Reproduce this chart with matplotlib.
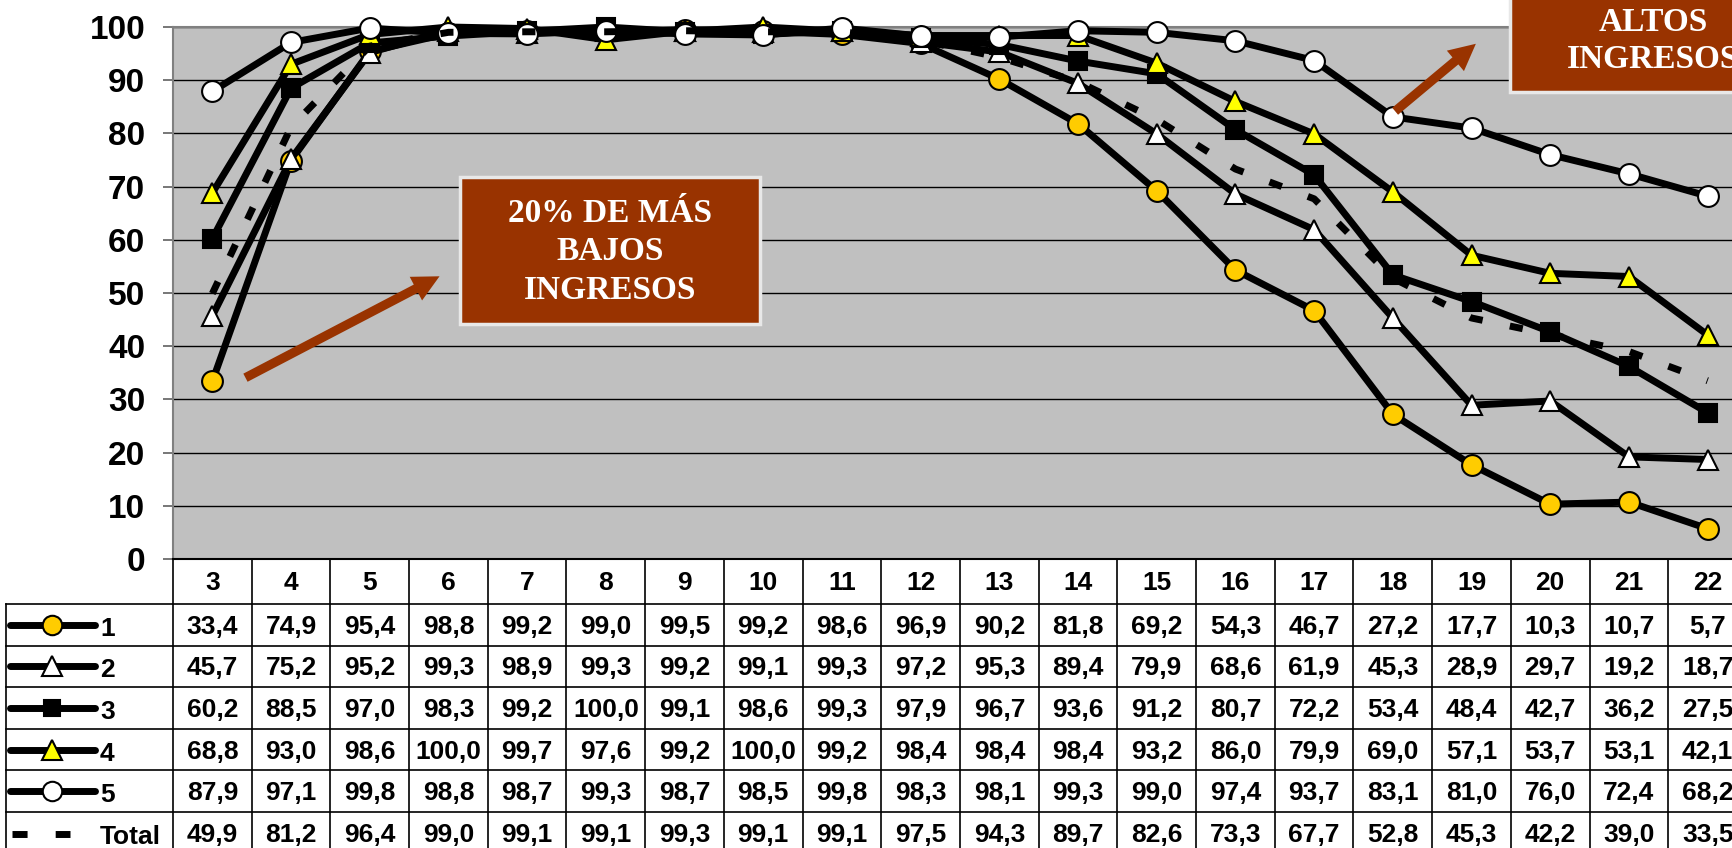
# Tasa de asistencia por edad y quintil de ingreso

import matplotlib
matplotlib.use('Agg')
import matplotlib.pyplot as plt
from matplotlib.patches import Rectangle, FancyArrowPatch

# ---- data ----
edades = [3, 4, 5, 6, 7, 8, 9, 10, 11, 12, 13, 14, 15, 16, 17, 18, 19, 20, 21, 22]

q1 = [33.4, 74.9, 95.4, 98.8, 99.2, 99.0, 99.5, 99.2, 98.6, 96.9,
      90.2, 81.8, 69.2, 54.3, 46.7, 27.2, 17.7, 10.3, 10.7, 5.7]
q2 = [45.7, 75.2, 95.2, 99.3, 98.9, 99.3, 99.2, 99.1, 99.3, 97.2,
      95.3, 89.4, 79.9, 68.6, 61.9, 45.3, 28.9, 29.7, 19.2, 18.7]
q3 = [60.2, 88.5, 97.0, 98.3, 99.2, 100.0, 99.1, 98.6, 99.3, 97.9,
      96.7, 93.6, 91.2, 80.7, 72.2, 53.4, 48.4, 42.7, 36.2, 27.5]
q4 = [68.8, 93.0, 98.6, 100.0, 99.7, 97.6, 99.2, 100.0, 99.2, 98.4,
      98.4, 98.4, 93.2, 86.0, 79.9, 69.0, 57.1, 53.7, 53.1, 42.1]
q5 = [87.9, 97.1, 99.8, 98.8, 98.7, 99.3, 98.7, 98.5, 99.8, 98.3,
      98.1, 99.3, 99.0, 97.4, 93.7, 83.1, 81.0, 76.0, 72.4, 68.2]
total = [49.9, 81.2, 96.4, 99.0, 99.1, 99.1, 99.3, 99.1, 99.1, 97.5,
         94.3, 89.7, 82.6, 73.3, 67.7, 52.8, 45.3, 42.2, 39.0, 33.5]

series_names = ['1', '2', '3', '4', '5', 'Total']
series_vals = [q1, q2, q3, q4, q5, total]

box_bajos = '20% DE MÁS\nBAJOS\nINGRESOS'
box_altos = 'ALTOS\nINGRESOS'

# ---- styles ----
styles = [
    dict(marker='o', mfc='#FFCC00', ls='-'),
    dict(marker='^', mfc='white', ls='-'),
    dict(marker='s', mfc='black', ls='-'),
    dict(marker='^', mfc='#FFFF00', ls='-'),
    dict(marker='o', mfc='white', ls='-'),
    dict(marker='None', mfc='black', ls=(0, (1.9, 4.0))),
]
msizes = [15, 15, 13, 15, 15, 0]

FW, FH = 1733, 848
LEFT = 173          # plot left edge in px
COLW = 78.7         # column width in px
TOP = 27
BOT = 559
brown = '#993300'
sans = 'Liberation Sans'
serif = 'Liberation Serif'
tfs = 19            # table font size

fig = plt.figure(figsize=(FW / 100, FH / 100), dpi=100)

ncol = len(edades)
ax = fig.add_axes([LEFT / FW, (FH - BOT) / FH, ncol * COLW / FW, (BOT - TOP) / FH])
ax.set_facecolor('#C0C0C0')
x = list(range(ncol))

for vals, st, ms in zip(series_vals, styles, msizes):
    ax.plot(x, vals, color='black', lw=5, ls=st['ls'], marker=st['marker'],
            ms=ms, mfc=st['mfc'], mec='black', mew=1.5, clip_on=False, zorder=3,
            dash_capstyle='butt')

ax.set_xlim(-0.5, ncol - 0.5)
ax.set_ylim(0, 100)
ax.set_yticks(range(0, 101, 10))
ax.set_xticks([])
ax.yaxis.grid(True, color='black', lw=1)
ax.set_axisbelow(True)
ax.tick_params(axis='y', length=7, width=1.2, color='#606060', pad=13,
               labelsize=24)
for lab in ax.get_yticklabels():
    lab.set_fontfamily(sans)
    lab.set_fontweight('bold')
for s in ['top', 'left', 'right']:
    ax.spines[s].set_color('#808080')
    ax.spines[s].set_linewidth(1.5)
ax.spines['bottom'].set_color('black')
ax.spines['bottom'].set_linewidth(1.5)

# ---- data table below ----
def px2x(px):
    return -0.5 + (px - LEFT) / COLW

tab_h = FH - BOT
tax = fig.add_axes([0, 0, (LEFT + ncol * COLW) / FW, tab_h / FH])
tax.set_xlim(px2x(0), ncol - 0.5)
tax.set_ylim(tab_h, 0)
tax.axis('off')

HDR = 45
ROWH = 41.6
lw_t = 1.2
# header
for i, e in enumerate(edades):
    tax.text(i, HDR / 2 + 2, str(e), ha='center', va='center', fontsize=tfs,
             fontweight='bold', fontfamily=sans)
# vertical lines
for i in range(ncol + 1):
    tax.plot([i - 0.5, i - 0.5], [0, tab_h + 10], color='black', lw=lw_t, clip_on=False)
tax.plot([px2x(6), px2x(6)], [HDR, tab_h + 10], color='black', lw=lw_t, clip_on=False)
# horizontal lines
nrow = len(series_vals)
for r in range(nrow + 1):
    y = HDR + r * ROWH
    tax.plot([px2x(6), ncol - 0.5], [y, y], color='black', lw=lw_t, clip_on=False)

for r, (name, vals, st, ms) in enumerate(zip(series_names, series_vals, styles, msizes)):
    yc = HDR + (r + 0.5) * ROWH
    if name == 'Total':
        tax.plot([px2x(12), px2x(70)], [yc + 1, yc + 1], color='black', lw=5,
                 ls=(0, (2.17, 4.05)), dash_capstyle='butt')
    else:
        tax.plot([px2x(10), px2x(95)], [yc, yc], color='black', lw=5,
                 solid_capstyle='round')
        tax.plot([px2x(52)], [yc], marker=st['marker'], ms=ms - 1,
                 mfc=st['mfc'], mec='black', mew=1.5)
    tax.text(px2x(100), yc + 4, name, ha='left', va='center', fontsize=tfs,
             fontweight='bold', fontfamily=sans)
    for i, v in enumerate(vals):
        tax.text(i, yc + 2, f'{v:.1f}'.replace('.', ','), ha='center', va='center',
                 fontsize=tfs, fontweight='bold', fontfamily=sans)

# ---- annotation boxes ----
def add_box(x0, y0, x1, y1):
    # pixel coordinates measured from top-left
    rect = Rectangle((x0 / FW, (FH - y1) / FH), (x1 - x0) / FW, (y1 - y0) / FH,
                     transform=fig.transFigure, facecolor=brown,
                     edgecolor='#E8E8E8', lw=2.5, zorder=5)
    fig.add_artist(rect)

add_box(460, 177, 760, 324)
fig.text(610 / FW, (FH - 252) / FH, box_bajos, ha='center', va='center',
         color='white', fontsize=24, fontweight='bold', fontfamily=serif,
         linespacing=1.3, zorder=6)

add_box(1510, -20, 1800, 92)
fig.text(1653 / FW, (FH - 41) / FH, box_altos, ha='center', va='center',
         color='white', fontsize=24, fontweight='bold', fontfamily=serif,
         linespacing=1.25, zorder=6)

# arrows
for (tx, ty), (hx, hy) in [((243, 379), (442, 275)), ((1393, 113), (1478, 42))]:
    fig.add_artist(FancyArrowPatch(
        (tx / FW, (FH - ty) / FH), (hx / FW, (FH - hy) / FH),
        transform=fig.transFigure,
        arrowstyle='simple,head_width=1.6,head_length=1.6,tail_width=0.55',
        mutation_scale=12, color=brown, lw=0, zorder=6))

fig.savefig('out.png', dpi=100)
